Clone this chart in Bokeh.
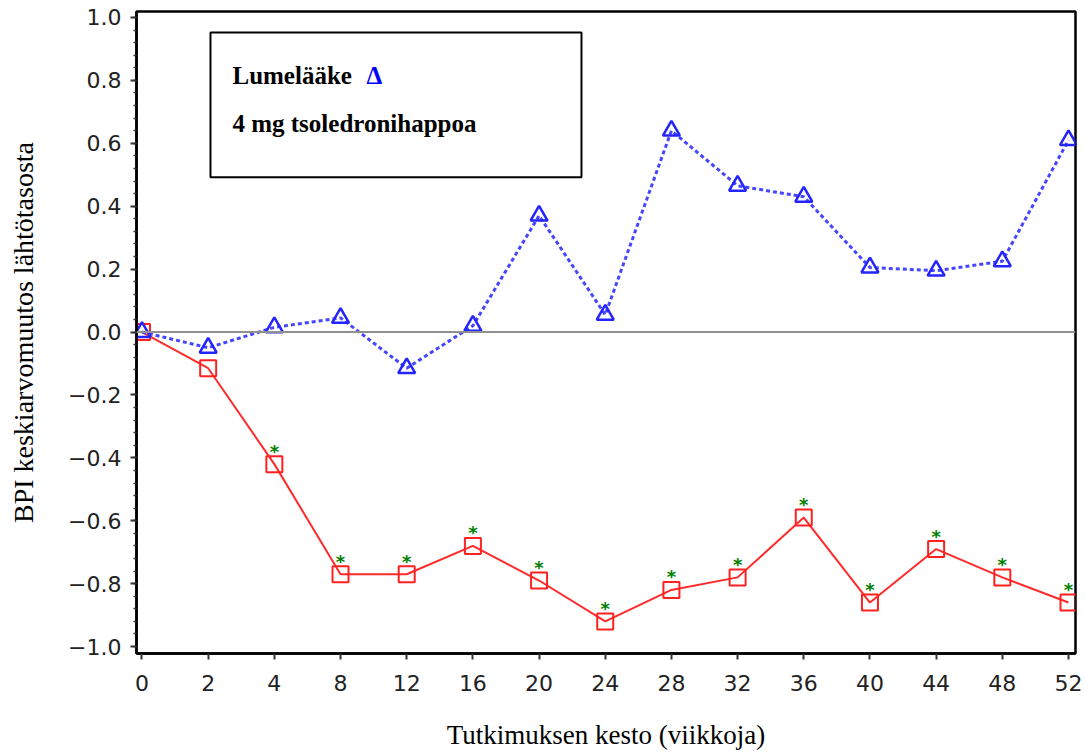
from bokeh.plotting import figure
from bokeh.models import FixedTicker, Range1d, Span, BoxAnnotation, Label, ColumnDataSource
from bokeh.core.properties import value
from bokeh.embed import file_html
from bokeh.resources import INLINE

# ---- data ----
weeks = ["0", "2", "4", "8", "12", "16", "20", "24", "28", "32", "36", "40", "44", "48", "52"]
placebo = [0.0, -0.05, 0.015, 0.045, -0.115, 0.02, 0.37, 0.055, 0.64, 0.465, 0.43, 0.205, 0.195, 0.225, 0.61]
zoledronic = [0.0, -0.115, -0.42, -0.77, -0.77, -0.68, -0.79, -0.92, -0.82, -0.78, -0.59, -0.86, -0.69, -0.78, -0.86]
significant = [False, False, True, True, True, True, True, True, True, True, True, True, True, True, True]
y_ticks = [-1.0, -0.8, -0.6, -0.4, -0.2, 0.0, 0.2, 0.4, 0.6, 0.8, 1.0]
y_labels = ["\u22121.0", "\u22120.8", "\u22120.6", "\u22120.4", "\u22120.2", "0.0", "0.2", "0.4", "0.6", "0.8", "1.0"]
legend_placebo = "Lumelääke"
legend_zol = "4 mg tsoledronihappoa"
x_title = "Tutkimuksen kesto (viikkoja)"
y_title = "BPI keskiarvomuutos lähtötasosta"

idx = list(range(len(weeks)))

p = figure(width=1085, height=756, output_backend="svg", toolbar_location=None,
           x_range=Range1d(-0.083, 14.106), y_range=Range1d(-1.022, 1.019),
           min_border_left=136, min_border_right=10, min_border_top=11, min_border_bottom=103)
p.grid.visible = False
p.outline_line_color = "black"
p.outline_line_width = 2.5
p.outline_line_alpha = 1.0
p.background_fill_color = "white"

# axes
p.xaxis.ticker = FixedTicker(ticks=idx)
p.xaxis.major_label_overrides = {i: w for i, w in zip(idx, weeks)}
minor = [round(-1.0 + 0.04 * k, 2) for k in range(51)]
p.yaxis.ticker = FixedTicker(ticks=y_ticks, minor_ticks=minor)
p.yaxis.major_label_overrides = {t: l for t, l in zip(y_ticks, y_labels)}

for ax in (p.xaxis[0], p.yaxis[0]):
    ax.axis_line_color = "black"
    ax.axis_line_width = 2.5
    ax.major_tick_line_color = "#333333"
    ax.major_tick_line_width = 2
    ax.major_tick_out = 6
    ax.major_tick_in = 0
    ax.minor_tick_line_color = "#333333"
    ax.minor_tick_line_width = 1.5
    ax.minor_tick_out = 3
    ax.minor_tick_in = 0
    ax.major_label_text_font = "DejaVu Sans"
    ax.major_label_text_font_size = "22px"
    ax.major_label_text_color = "#222222"
    ax.axis_label_text_font = "Liberation Serif"
    ax.axis_label_text_font_style = "normal"
    ax.axis_label_text_color = "black"

p.xaxis.major_label_standoff = 15
p.yaxis.major_label_standoff = 9
p.xaxis.axis_label = x_title
p.xaxis.axis_label_text_font_size = "27px"
p.xaxis.axis_label_standoff = 26
p.yaxis.axis_label = y_title
p.yaxis.axis_label_text_font_size = "28px"
p.yaxis.axis_label_standoff = 26

# zero line
p.add_layout(Span(location=0, dimension="width", line_color="#909090", line_width=2))

# zoledronic acid series
src_z = ColumnDataSource(dict(x=idx, y=zoledronic))
p.line("x", "y", source=src_z, line_color="#ff2a2a", line_width=2)
p.scatter("x", "y", source=src_z, marker="square", size=16, fill_alpha=0,
          line_color="#ff2020", line_width=2)

# significance markers
sx = [i for i, s in zip(idx, significant) if s]
sy = [v for v, s in zip(zoledronic, significant) if s]
p.text(x=sx, y=sy, text=["*"] * len(sx), text_color="#008000",
       text_font=value("DejaVu Sans"), text_font_size="18px", text_font_style="bold",
       text_align="center", text_baseline="middle", y_offset=-13)

# placebo series
src_p = ColumnDataSource(dict(x=idx, y=placebo))
p.line("x", "y", source=src_p, line_color="#4646ff", line_width=3, line_dash="4 3")
p.scatter("x", "y", source=src_p, marker="triangle", size=17, fill_alpha=0,
          line_color="#2424ff", line_width=2.5)

# legend box
p.add_layout(BoxAnnotation(left=1.035, right=6.641, bottom=0.492, top=0.952,
                           fill_color="white", fill_alpha=1.0,
                           line_color="black", line_alpha=1.0, line_width=2))
p.add_layout(Label(x=1.367, y=0.816, text=legend_placebo, text_font="Liberation Serif",
                   text_font_style="bold", text_font_size="25px", text_baseline="middle",
                   text_color="black"))
p.add_layout(Label(x=3.392, y=0.816, text="\u0394", text_font="Liberation Serif",
                   text_font_style="bold", text_font_size="25px", text_baseline="middle",
                   text_color="#0000ff"))
p.add_layout(Label(x=1.367, y=0.663, text=legend_zol, text_font="Liberation Serif",
                   text_font_style="bold", text_font_size="25px", text_baseline="middle",
                   text_color="black"))

open("out.html", "w").write(file_html(p, INLINE))
